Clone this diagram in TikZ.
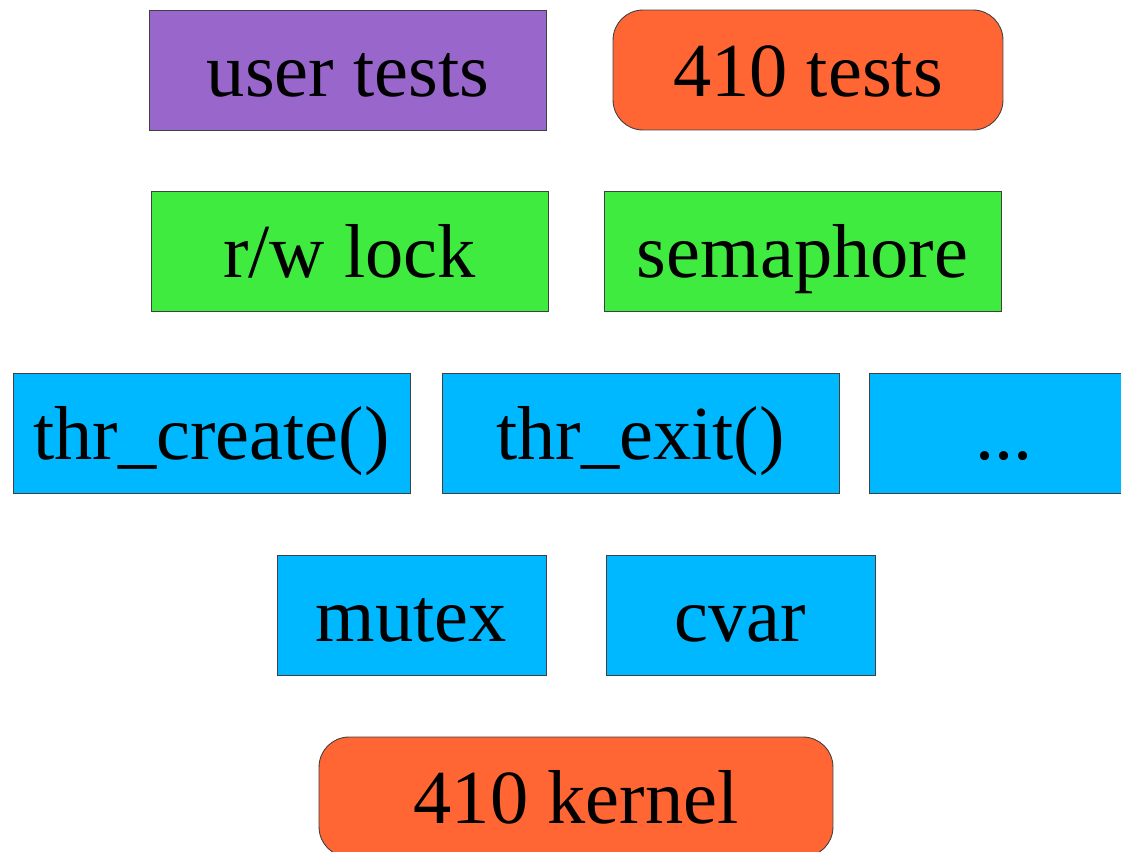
\documentclass[tikz,border=0pt]{standalone}
\usepackage{fontspec}
\setmainfont{Liberation Serif}
\usetikzlibrary{positioning}
\definecolor{userpurple}{HTML}{9966CC}
\definecolor{testorange}{HTML}{FF6633}
\definecolor{libgreen}{HTML}{3FEB3F}
\definecolor{thrblue}{HTML}{00B8FF}
\begin{document}
\begin{tikzpicture}[x=0.02cm,y=-0.02cm,
    layer/.style={draw=black!75,line width=0.5pt,inner sep=0pt,
      minimum height=2.4cm,text height=1.06cm,text depth=0cm,
      font=\fontsize{43.5}{52}\selectfont},
    wide/.style={layer,minimum width=7.94cm},
    narrow/.style={layer,minimum width=5.38cm},
    rounded/.style={rounded corners=0.6cm}]
    \useasboundingbox (0,0) rectangle (1121,851);
    % top row
    \node[wide,fill=userpurple] (user) at (348,70) {user tests};
    \node[wide,fill=testorange,rounded,minimum width=7.8cm] (tests) at (808,70) {410 tests};
    % libraries
    \node[wide,fill=libgreen] (rwlock) at (349.5,251.5) {r/w lock};
    \node[wide,fill=libgreen] (sem) at (802.5,251.5) {semaphore};
    % thread calls
    \node[wide,fill=thrblue] (create) at (211.5,433) {thr\_create()};
    \node[wide,fill=thrblue] (exit) at (640.5,433) {thr\_exit()};
    \node[narrow,fill=thrblue] (more) at (1004,433) {...};
    % primitives
    \node[narrow,fill=thrblue] (mutex) at (411.5,615) {mutex};
    \node[narrow,fill=thrblue] (cvar) at (740.5,615) {cvar};
    % bottom
    \node[layer,fill=testorange,rounded,minimum width=10.28cm] (kernel) at (576,797) {410 kernel};
\end{tikzpicture}
\end{document}
